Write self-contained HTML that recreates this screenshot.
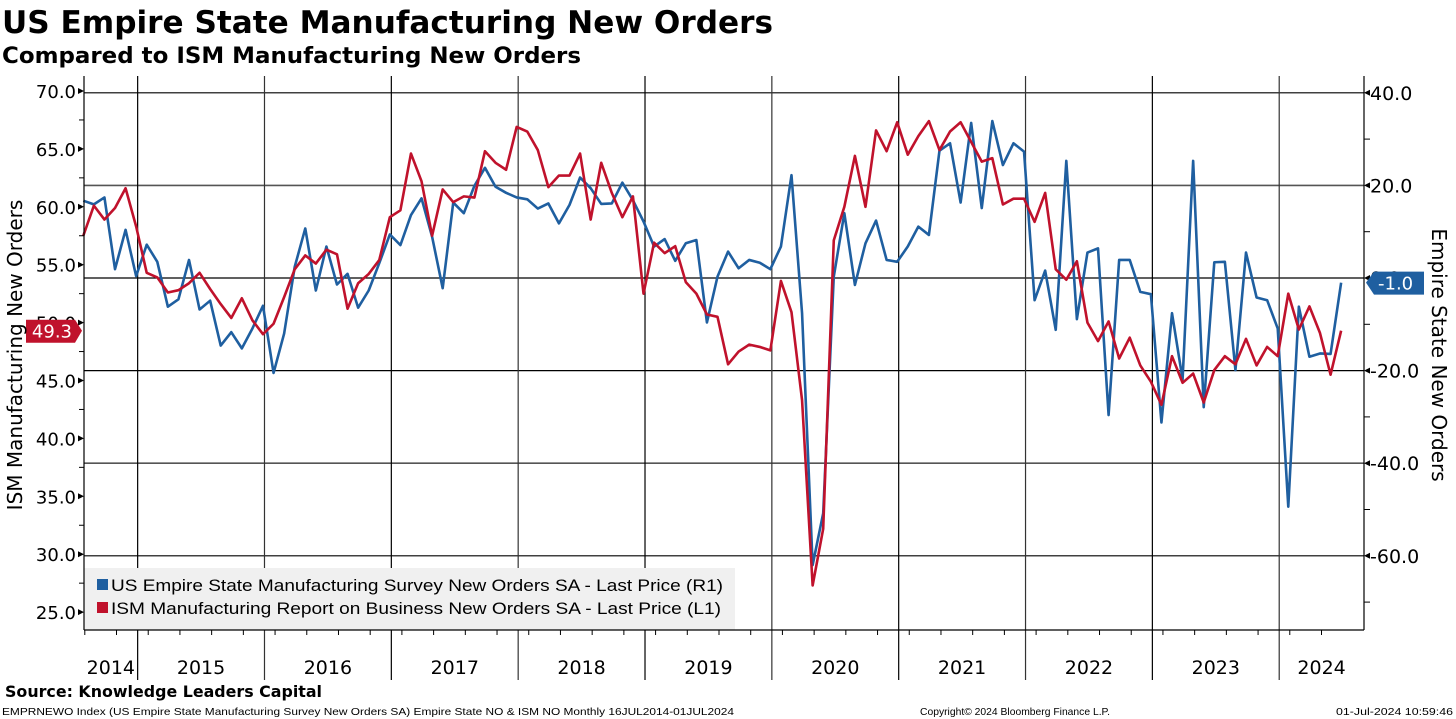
<!DOCTYPE html>
<html><head><meta charset="utf-8"><style>
html,body{margin:0;padding:0;background:#fff;}
svg{display:block;font-family:"DejaVu Sans","Liberation Sans",sans-serif;}
</style></head><body>
<svg id="chart" width="1456" height="719" viewBox="0 0 1456 719">
<text x="2" y="33" font-size="31" font-weight="bold" textLength="771" lengthAdjust="spacingAndGlyphs">US Empire State Manufacturing New Orders</text>
<text x="2" y="63" font-size="22" font-weight="bold" textLength="579" lengthAdjust="spacingAndGlyphs">Compared to ISM Manufacturing New Orders</text>
<g id="grid"></g>
<rect x="84" y="568" width="651" height="62" fill="#f0f0f0"/>
<g id="series"></g>
<g>
<rect x="97" y="579" width="11" height="11" fill="#1f5fa0"/>
<text x="111" y="591" font-size="17" textLength="612" lengthAdjust="spacingAndGlyphs" font-family="Liberation Sans, sans-serif">US Empire State Manufacturing Survey New Orders SA - Last Price (R1)</text>
<rect x="97" y="602" width="11" height="11" fill="#c0122c"/>
<text x="111" y="614" font-size="17" textLength="610" lengthAdjust="spacingAndGlyphs" font-family="Liberation Sans, sans-serif">ISM Manufacturing Report on Business New Orders SA - Last Price (L1)</text>
</g>
<g id="axes"></g>
<text transform="translate(22,355) rotate(-90)" text-anchor="middle" font-size="20">ISM Manufacturing New Orders</text>
<text transform="translate(1432,355) rotate(90)" text-anchor="middle" font-size="20">Empire State New Orders</text>
<text x="5" y="697" font-size="16" font-weight="bold" textLength="317" lengthAdjust="spacingAndGlyphs">Source: Knowledge Leaders Capital</text>
<text x="2" y="715" font-size="10.5" textLength="732" lengthAdjust="spacingAndGlyphs" font-family="Liberation Sans, sans-serif">EMPRNEWO Index (US Empire State Manufacturing Survey New Orders SA) Empire State NO &amp; ISM NO  Monthly 16JUL2014-01JUL2024</text>
<text x="920" y="715" font-size="10.5" textLength="190" lengthAdjust="spacingAndGlyphs" font-family="Liberation Sans, sans-serif">Copyright© 2024 Bloomberg Finance L.P.</text>
<text x="1453" y="715" text-anchor="end" font-size="10.5" textLength="117" lengthAdjust="spacingAndGlyphs" font-family="Liberation Sans, sans-serif">01-Jul-2024 10:59:46</text>
</svg>
<script>
const empire = [16.7,15.9,17.4,1.9,10.4,0.4,7.2,3.5,-6.2,-4.6,3.9,-6.8,-4.9,-14.6,-11.7,-15.2,-10.9,-6.0,-20.5,-12.0,2.4,10.7,-2.7,6.8,-1.4,0.9,-6.4,-2.7,3.2,9.4,7.1,
13.6,17.2,8.9,-2.2,16.3,14.0,19.9,23.8,19.7,18.4,17.4,17.0,15.0,16.1,11.8,15.8,21.7,19.4,16.0,16.1,20.6,16.8,12.2,6.8,8.4,3.7,7.5,8.2,-9.6,
0.3,5.7,2.1,3.9,3.3,1.9,6.8,22.2,-7.6,-62.0,-50.8,0.3,14.0,-1.5,7.5,12.4,3.9,3.5,6.8,11.1,9.3,27.5,29.1,16.3,33.5,15.1,33.9,24.4,29.1,27.3,-4.8,
1.6,-11.2,25.3,-8.9,5.5,6.4,-29.6,3.9,3.9,-3.0,-3.5,-31.2,-7.6,-21.9,25.3,-27.9,3.4,3.5,-19.9,5.5,-4.2,-4.8,-10.9,-49.4,-6.2,-17.0,-16.3,-16.4,-1.0];
const ism = [57.5,60.1,58.9,59.9,61.6,58.3,54.3,53.9,52.6,52.8,53.4,54.3,52.9,51.6,50.4,52.1,50.2,49.0,49.9,52.2,54.6,55.8,55.1,56.3,55.9,51.2,53.4,54.2,55.4,59.1,59.7,
64.6,62.2,57.5,61.5,60.4,60.9,60.8,64.8,63.8,63.2,66.9,66.5,64.9,61.7,62.7,62.7,64.6,58.9,63.8,61.2,59.1,60.9,52.5,56.9,56.0,56.6,53.5,52.5,50.7,
50.5,46.4,47.5,48.1,47.9,47.6,53.6,50.9,43.3,27.3,32.2,57.1,60.0,64.4,60.0,66.6,64.8,67.3,64.5,66.1,67.4,64.9,66.5,67.3,65.6,63.9,64.2,60.2,60.7,60.7,58.7,
61.2,54.6,53.7,55.3,50.0,48.4,50.1,46.9,48.7,46.3,44.9,42.9,47.1,44.8,45.6,43.1,45.9,47.1,46.4,48.6,46.3,47.9,47.1,52.5,49.4,51.4,49.1,45.5,49.3];
const years = ["2014","2015","2016","2017","2018","2019","2020","2021","2022","2023","2024"];
const leftTicks = [25,30,35,40,45,50,55,60,65,70];
const rightTicks = [40,20,0,-20,-40,-60];

const NS="http://www.w3.org/2000/svg";
const L=84,R=1364,T=76,B=630;
const xi=i=>83.3+10.57*i;
const yL=v=>91+(70-v)*11.58;
const yR=v=>278-v*4.63;
function mk(tag,attrs,parent){const e=document.createElementNS(NS,tag);for(const k in attrs)e.setAttribute(k,attrs[k]);parent.appendChild(e);return e;}
const grid=document.getElementById('grid'),axes=document.getElementById('axes'),series=document.getElementById('series');

rightTicks.forEach(v=>{
 const g=mk('line',{x1:L,x2:R,y1:yR(v),y2:yR(v),stroke:(v===20||v===-40)?'#555':'#000','stroke-width':(v===20||v===-40)?1.6:1.2},grid);
 
 
 const t=mk('text',{x:R+6,y:yR(v)+7,'font-size':19},axes);t.textContent=v.toFixed(1);
 
 
 mk('path',{d:`M${R} ${yR(v)} l6 -3 v6 z`,fill:'#000'},axes);
});
[30,10,-10,-30,-50,-70].forEach(v=>mk('line',{x1:R,x2:R+6,y1:yR(v),y2:yR(v),stroke:'#000'},axes));
years.forEach((y,k)=>{
 const x0=k===0?L:xi(12*(k-1)+5)+1.5;
 const x1=k===years.length-1?R:xi(12*k+5)+1.5;
 if(k>0){const g=mk('line',{x1:x0,x2:x0,y1:T,y2:680,stroke:(k%2===0)?'#333':'#000','stroke-width':1.2},grid);
 
 }
 const t=mk('text',{x:(x0+x1)/2,y:674,'text-anchor':'middle','font-size':19},axes);t.textContent=y;
 
 
});
for(let i=0;i<empire.length;i+=3){mk('line',{x1:xi(i)+1.5,x2:xi(i)+1.5,y1:B,y2:B+5,stroke:'#000'},axes);}
leftTicks.forEach(v=>{
 const t=mk('text',{x:L-8,y:yL(v)+7,'text-anchor':'end','font-size':18},axes);t.textContent=v.toFixed(1);
 
 
 mk('path',{d:`M${L} ${yL(v)} l-6 -3 v6 z`,fill:'#000'},axes);
 mk('line',{x1:L-5,x2:L,y1:yL(v+2.5),y2:yL(v+2.5),stroke:'#000'},axes);
});
mk('line',{x1:L,x2:L,y1:T,y2:B,stroke:'#000','stroke-width':1.2},axes);
mk('line',{x1:R,x2:R,y1:T,y2:B,stroke:'#000','stroke-width':1.2},axes);
mk('line',{x1:L,x2:R,y1:B,y2:B,stroke:'#000','stroke-width':1.2},axes);

const pe=mk('polyline',{points:empire.map((v,i)=>xi(i)+','+yR(v)).join(' '),fill:'none',stroke:'#1f5fa0','stroke-width':2.6,'stroke-linejoin':'round'},series);


const pi=mk('polyline',{points:ism.map((v,i)=>xi(i)+','+yL(v)).join(' '),fill:'none',stroke:'#c0122c','stroke-width':2.6,'stroke-linejoin':'round'},series);



const lastE=empire[empire.length-1],lastI=ism[ism.length-1];
const yE=yR(lastE);
const be=mk('path',{d:`M${R+2} ${yE} l8 -11 h50 v23 h-50 z`,fill:'#1f5fa0'},axes);


const te=mk('text',{x:R+14,y:yE+7,fill:'#fff','font-size':18},axes);te.textContent=lastE.toFixed(1);
const yI=yL(lastI);
const bi=mk('path',{d:`M${L-2} ${yI} l-7 -11 h-49 v23 h49 z`,fill:'#c0122c'},axes);


const ti=mk('text',{x:L-12,y:yI+7,fill:'#fff','font-size':18,'text-anchor':'end'},axes);ti.textContent=lastI.toFixed(1);
</script>
</body></html>
